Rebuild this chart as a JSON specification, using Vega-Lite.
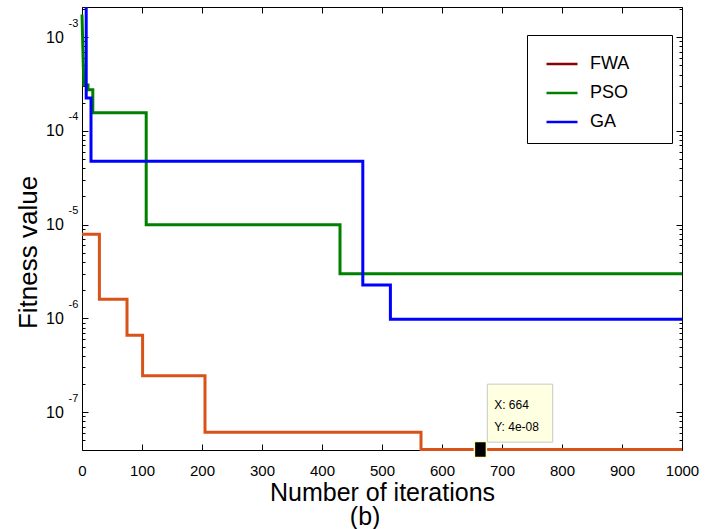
{
  "$schema": "https://vega.github.io/schema/vega-lite/v6.json",
  "width": 600,
  "height": 443,
  "autosize": {"type": "none"},
  "padding": {"left": 82, "top": 7, "right": 30, "bottom": 79},
  "background": "white",
  "config": {
    "view": {"stroke": "black", "strokeWidth": 1},
    "font": "Liberation Sans",
    "axis": {"grid": false, "domain": false, "tickColor": "black", "labelColor": "black", "titleColor": "black", "labelFont": "Liberation Sans", "titleFont": "Liberation Sans", "titleFontWeight": "normal", "tickWidth": 1}
  },
  "datasets": {
    "series": [
      {"a": "FWA", "i": 0, "v": 7.9e-6, "o": 1},
      {"a": "FWA", "i": 29, "v": 7.9e-6, "o": 2},
      {"a": "FWA", "i": 29, "v": 1.6e-6, "o": 3},
      {"a": "FWA", "i": 75, "v": 1.6e-6, "o": 4},
      {"a": "FWA", "i": 75, "v": 6.6e-7, "o": 5},
      {"a": "FWA", "i": 101, "v": 6.6e-7, "o": 6},
      {"a": "FWA", "i": 101, "v": 2.44e-7, "o": 7},
      {"a": "FWA", "i": 205, "v": 2.44e-7, "o": 8},
      {"a": "FWA", "i": 205, "v": 6.1e-8, "o": 9},
      {"a": "FWA", "i": 565, "v": 6.1e-8, "o": 10},
      {"a": "FWA", "i": 565, "v": 4e-8, "o": 11},
      {"a": "FWA", "i": 1000, "v": 4e-8, "o": 12},
      {"a": "PSO", "i": 0, "v": 1.75e-3, "o": 1},
      {"a": "PSO", "i": 3, "v": 3.1e-4, "o": 2},
      {"a": "PSO", "i": 10, "v": 3.1e-4, "o": 3},
      {"a": "PSO", "i": 10, "v": 2.75e-4, "o": 4},
      {"a": "PSO", "i": 18, "v": 2.75e-4, "o": 5},
      {"a": "PSO", "i": 18, "v": 1.56e-4, "o": 6},
      {"a": "PSO", "i": 107, "v": 1.56e-4, "o": 7},
      {"a": "PSO", "i": 107, "v": 1.0e-5, "o": 8},
      {"a": "PSO", "i": 430, "v": 1.0e-5, "o": 9},
      {"a": "PSO", "i": 430, "v": 3.0e-6, "o": 10},
      {"a": "PSO", "i": 1000, "v": 3.0e-6, "o": 11},
      {"a": "GA", "i": 7, "v": 2.1e-3, "o": 1},
      {"a": "GA", "i": 7, "v": 2.25e-4, "o": 2},
      {"a": "GA", "i": 15, "v": 2.25e-4, "o": 3},
      {"a": "GA", "i": 15, "v": 4.74e-5, "o": 4},
      {"a": "GA", "i": 468, "v": 4.74e-5, "o": 5},
      {"a": "GA", "i": 468, "v": 2.27e-6, "o": 6},
      {"a": "GA", "i": 514, "v": 2.27e-6, "o": 7},
      {"a": "GA", "i": 514, "v": 9.8e-7, "o": 8},
      {"a": "GA", "i": 1000, "v": 9.8e-7, "o": 9}
    ],
    "tip": [{"i": 664, "v": 4e-8, "x1": 675.5, "x2": 784.5, "y1": 4.79e-8, "y2": 1.99e-7}],
    "tiptext": [
      {"t": "X: 664", "i": 687, "v": 1.077e-7},
      {"t": "Y: 4e-08", "i": 687, "v": 6.31e-8}
    ]
  },
  "layer": [
    {
      "data": {"name": "series"},
      "mark": {"type": "line", "strokeWidth": 3},
      "encoding": {
        "x": {
          "field": "i", "type": "quantitative",
          "scale": {"domain": [0, 1000], "nice": false, "zero": false},
          "axis": {
            "orient": "bottom",
            "values": [0, 100, 200, 300, 400, 500, 600, 700, 800, 900, 1000],
            "format": "d",
            "ticks": false,
            "labelPadding": 13,
            "labelFontSize": 15,
            "labelFlush": false,
            "labelOverlap": false,
            "title": ["Number of iterations", "(b)\u00a0\u00a0\u00a0\u00a0\u00a0\u200b"],
            "titleFontSize": 25,
            "titleBaseline": "alphabetic",
            "titleY": 50,
            "titleLineHeight": 24
          }
        },
        "y": {
          "field": "v", "type": "quantitative",
          "scale": {"type": "log", "domain": [3.95e-8, 2.1e-3], "nice": false},
          "axis": {
            "orient": "left",
            "values": [1e-7, 1e-6, 1e-5, 1e-4, 1e-3],
            "ticks": false,
            "labelExpr": "'10'",
            "labelFontSize": 16,
            "labelPadding": 18.7,
            "labelOverlap": false,
            "title": "Fitness value",
            "titleFontSize": 26,
            "titleX": -54,
            "titleY": 245,
            "titleBaseline": "middle",
            "titleAlign": "center",
            "titleAngle": -90
          }
        },
        "stroke": {
          "field": "a", "type": "nominal",
          "scale": {"domain": ["FWA", "PSO", "GA"], "range": ["#D95319", "#008000", "#0000FF"]},
          "legend": null
        },
        "order": {"field": "o", "type": "quantitative"}
      }
    },
    {
      "data": {"name": "series"},
      "mark": {"type": "line", "opacity": 0},
      "encoding": {
        "x": {
          "field": "i", "type": "quantitative",
          "scale": {"domain": [0, 1000], "nice": false, "zero": false},
          "axis": {
            "orient": "top",
            "values": [0, 100, 200, 300, 400, 500, 600, 700, 800, 900, 1000],
            "offset": -6,
            "tickSize": 6,
            "labels": false,
            "title": null
          }
        },
        "y": {
          "field": "v", "type": "quantitative",
          "scale": {"type": "log", "domain": [3.95e-8, 2.1e-3], "nice": false},
          "axis": {
            "orient": "left",
            "values": [1e-7, 1e-6, 1e-5, 1e-4, 1e-3],
            "ticks": false,
            "labelExpr": "'' + round(log(datum.value) / LN10)",
            "labelFontSize": 11,
            "labelAlign": "left",
            "labelPadding": 14,
            "labelOffset": -14,
            "labelOverlap": false,
            "title": null
          }
        },
        "stroke": {
          "field": "a", "type": "nominal",
          "scale": {"domain": ["FWA", "PSO", "GA"], "range": ["#8B0000", "#008000", "#0000FF"]},
          "legend": {
            "orient": "none",
            "legendX": 445,
            "legendY": 28,
            "title": null,
            "symbolType": "stroke",
            "symbolSize": 961,
            "symbolStrokeWidth": 2.5,
            "symbolOpacity": 1,
            "symbolOffset": 6,
            "labelFontSize": 18,
            "labelFont": "Liberation Sans",
            "labelColor": "black",
            "labelOffset": 11,
            "strokeColor": "black",
            "fillColor": "white",
            "padding": 12,
            "rowPadding": 3,
            "labelExpr": "datum.label + '\u00a0\u00a0\u00a0\u00a0\u00a0\u00a0\u200b'"
          }
        },
        "order": {"field": "o", "type": "quantitative"}
      }
    },
    {
      "data": {"name": "series"},
      "mark": {"type": "point", "opacity": 0},
      "encoding": {
        "x": {
          "field": "i", "type": "quantitative",
          "scale": {"domain": [0, 1000], "nice": false, "zero": false},
          "axis": {
            "orient": "bottom",
            "values": [0, 100, 200, 300, 400, 500, 600, 700, 800, 900, 1000],
            "offset": -6,
            "tickSize": 6,
            "labels": false,
            "title": null
          }
        },
        "y": {
          "field": "v", "type": "quantitative",
          "scale": {"type": "log", "domain": [3.95e-8, 2.1e-3], "nice": false},
          "axis": {
            "orient": "left",
            "values": [1e-7, 1e-6, 1e-5, 1e-4, 1e-3],
            "offset": -6,
            "tickSize": 6,
            "labels": false,
            "title": null
          }
        }
      }
    },
    {
      "data": {"name": "series"},
      "mark": {"type": "point", "opacity": 0},
      "encoding": {
        "x": {
          "field": "i", "type": "quantitative",
          "scale": {"domain": [0, 1000], "nice": false, "zero": false},
          "axis": null
        },
        "y": {
          "field": "v", "type": "quantitative",
          "scale": {"type": "log", "domain": [3.95e-8, 2.1e-3], "nice": false},
          "axis": {
            "orient": "left",
            "values": [5e-8, 6e-8, 7e-8, 8e-8, 9e-8, 2e-7, 3e-7, 4e-7, 5e-7, 6e-7, 7e-7, 8e-7, 9e-7, 2e-6, 3e-6, 4e-6, 5e-6, 6e-6, 7e-6, 8e-6, 9e-6, 2e-5, 3e-5, 4e-5, 5e-5, 6e-5, 7e-5, 8e-5, 9e-5, 2e-4, 3e-4, 4e-4, 5e-4, 6e-4, 7e-4, 8e-4, 9e-4, 2e-3],
            "offset": -3,
            "tickSize": 3,
            "labels": false,
            "title": null
          }
        }
      }
    },
    {
      "data": {"name": "series"},
      "mark": {"type": "point", "opacity": 0},
      "encoding": {
        "x": {
          "field": "i", "type": "quantitative",
          "scale": {"domain": [0, 1000], "nice": false, "zero": false},
          "axis": null
        },
        "y": {
          "field": "v", "type": "quantitative",
          "scale": {"type": "log", "domain": [3.95e-8, 2.1e-3], "nice": false},
          "axis": {
            "orient": "right",
            "values": [1e-7, 1e-6, 1e-5, 1e-4, 1e-3],
            "offset": -6,
            "tickSize": 6,
            "labels": false,
            "title": null
          }
        }
      }
    },
    {
      "data": {"name": "series"},
      "mark": {"type": "point", "opacity": 0},
      "encoding": {
        "x": {
          "field": "i", "type": "quantitative",
          "scale": {"domain": [0, 1000], "nice": false, "zero": false},
          "axis": null
        },
        "y": {
          "field": "v", "type": "quantitative",
          "scale": {"type": "log", "domain": [3.95e-8, 2.1e-3], "nice": false},
          "axis": {
            "orient": "right",
            "values": [5e-8, 6e-8, 7e-8, 8e-8, 9e-8, 2e-7, 3e-7, 4e-7, 5e-7, 6e-7, 7e-7, 8e-7, 9e-7, 2e-6, 3e-6, 4e-6, 5e-6, 6e-6, 7e-6, 8e-6, 9e-6, 2e-5, 3e-5, 4e-5, 5e-5, 6e-5, 7e-5, 8e-5, 9e-5, 2e-4, 3e-4, 4e-4, 5e-4, 6e-4, 7e-4, 8e-4, 9e-4, 2e-3],
            "offset": -3,
            "tickSize": 3,
            "labels": false,
            "title": null
          }
        }
      }
    },
    {
      "data": {"name": "tip"},
      "mark": {"type": "rect", "fill": "#FFFFE1", "stroke": "#C8C8C8", "strokeWidth": 1},
      "encoding": {
        "x": {"field": "x1", "type": "quantitative", "scale": {"domain": [0, 1000], "nice": false, "zero": false}, "axis": null},
        "x2": {"field": "x2"},
        "y": {"field": "y1", "type": "quantitative", "scale": {"type": "log", "domain": [3.95e-8, 2.1e-3], "nice": false}, "axis": null},
        "y2": {"field": "y2"}
      }
    },
    {
      "data": {"name": "tiptext"},
      "mark": {"type": "text", "align": "left", "baseline": "alphabetic", "fontSize": 12, "font": "Liberation Sans", "color": "black"},
      "encoding": {
        "x": {"field": "i", "type": "quantitative", "scale": {"domain": [0, 1000], "nice": false, "zero": false}, "axis": null},
        "y": {"field": "v", "type": "quantitative", "scale": {"type": "log", "domain": [3.95e-8, 2.1e-3], "nice": false}, "axis": null},
        "text": {"field": "t", "type": "nominal"}
      }
    },
    {
      "data": {"name": "tip"},
      "mark": {"type": "point", "shape": "M-0.75,-1H0.75V1H-0.75Z", "size": 256, "filled": true, "fill": "black", "stroke": "#FFFFC0", "strokeWidth": 1.5, "opacity": 1},
      "encoding": {
        "x": {"field": "i", "type": "quantitative", "scale": {"domain": [0, 1000], "nice": false, "zero": false}, "axis": null},
        "y": {"field": "v", "type": "quantitative", "scale": {"type": "log", "domain": [3.95e-8, 2.1e-3], "nice": false}, "axis": null}
      }
    }
  ],
  "resolve": {
    "axis": {"x": "independent", "y": "independent"},
    "scale": {"stroke": "independent"},
    "legend": {"stroke": "independent"}
  }
}
